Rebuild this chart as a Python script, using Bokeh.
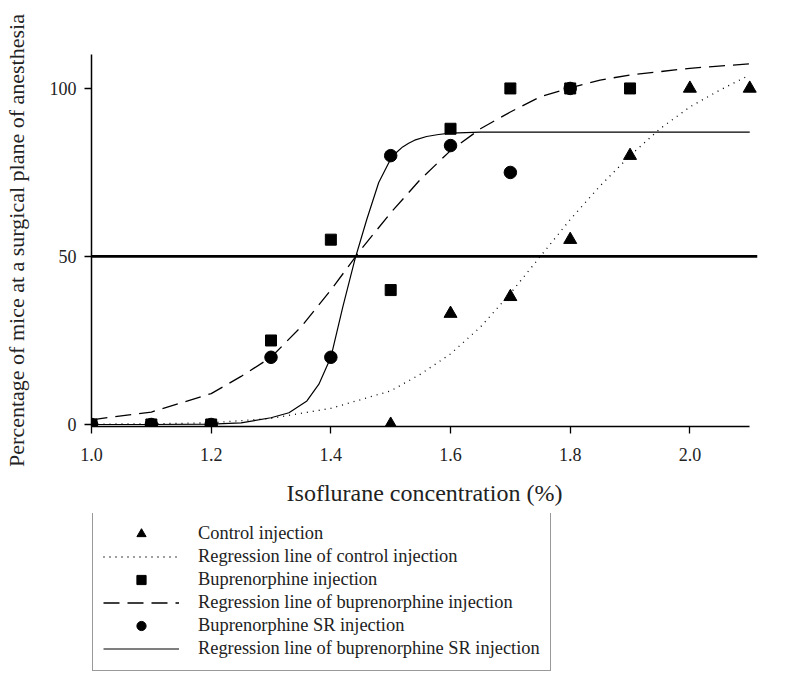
from bokeh.plotting import figure
from bokeh.models import Range1d, FixedTicker, Legend, LegendItem
from bokeh.layouts import column
from bokeh.embed import file_html
from bokeh.resources import INLINE

# ---- data ----
control_x = [1.5, 1.6, 1.7, 1.8, 1.9, 2.0, 2.1]
control_y = [0, 33, 38, 55, 80, 100, 100]

bup_x = [1.0, 1.1, 1.2, 1.3, 1.4, 1.5, 1.6, 1.7, 1.8, 1.9]
bup_y = [0, 0, 0, 25, 55, 40, 88, 100, 100, 100]

sr_x = [1.0, 1.1, 1.2, 1.3, 1.4, 1.5, 1.6, 1.7, 1.8]
sr_y = [0, 0, 0, 20, 20, 80, 83, 75, 100]

# regression curves
control_fit_x = [1.0, 1.1, 1.2, 1.3, 1.4, 1.5, 1.55, 1.6, 1.65, 1.7, 1.75, 1.8, 1.85, 1.9, 1.95, 2.0, 2.05, 2.1]
control_fit_y = [0.1, 0.2, 0.5, 1.8, 4.8, 10, 15, 21, 29, 39, 50, 61, 71, 80, 88, 94.5, 99.5, 104]

bup_fit_x = [1.0, 1.1, 1.2, 1.25, 1.3, 1.35, 1.4, 1.45, 1.5, 1.55, 1.6, 1.65, 1.7, 1.75, 1.8, 1.85, 1.9, 2.0, 2.1]
bup_fit_y = [1.4, 3.7, 9.2, 14.3, 20, 29, 40, 52, 63, 73, 81.5, 88, 93, 97.5, 100.2, 102.5, 104, 106, 107.3]

sr_fit_x = [1.0, 1.1, 1.2, 1.25, 1.3, 1.33, 1.36, 1.38, 1.4, 1.42, 1.44, 1.46, 1.48, 1.5,
            1.51, 1.52, 1.53, 1.54, 1.56, 1.58, 1.6, 1.65, 1.7, 2.1]
sr_fit_y = [0, 0, 0.1, 0.5, 2, 3.5, 7, 12, 20, 35, 49, 61, 72, 79,
            81, 82.6, 83.7, 84.6, 85.7, 86.3, 86.7, 87, 87, 87]

ref_x = [1.0, 2.113]
ref_y = [50, 50]

x_ticks = [1.0, 1.2, 1.4, 1.6, 1.8, 2.0]
x_tick_labels = ["1.0", "1.2", "1.4", "1.6", "1.8", "2.0"]
y_ticks = [0, 50, 100]
y_tick_labels = ["0", "50", "100"]

labels = [
    "Control injection",
    "Regression line of control injection",
    "Buprenorphine injection",
    "Regression line of buprenorphine injection",
    "Buprenorphine SR injection",
    "Regression line of buprenorphine SR injection",
]

FONT = "Liberation Serif"
TXT = "#222222"

# styles shared by plot and legend
tri_style = dict(marker="triangle", size=13, color="black")
sq_style = dict(marker="square", size=11, color="black")
circ_style = dict(marker="circle", size=12.5, color="black")
cfit_style = dict(line_color="black", line_width=1.3, line_dash="1 5")
bfit_style = dict(line_color="black", line_width=1.3, line_dash="16 8")
sfit_style = dict(line_color="black", line_width=1.2)

p = figure(width=792, height=513, output_backend="svg", toolbar_location=None,
           x_range=Range1d(1.0, 2.113), y_range=Range1d(-0.6, 110.1),
           min_border_left=90, min_border_right=35, min_border_top=54, min_border_bottom=87)
p.outline_line_color = None
p.xgrid.visible = False
p.ygrid.visible = False
p.background_fill_color = "white"
p.border_fill_color = "white"

for ax in (p.xaxis[0], p.yaxis[0]):
    ax.axis_line_color = "black"
    ax.axis_line_width = 1.5
    ax.major_tick_line_color = "black"
    ax.major_tick_line_width = 1.3
    ax.major_tick_out = 7
    ax.major_tick_in = 0
    ax.minor_tick_line_color = None
    ax.major_label_text_font = FONT
    ax.major_label_text_font_size = "18px"
    ax.major_label_text_color = TXT
    ax.axis_label_text_font = FONT
    ax.axis_label_text_font_style = "normal"
    ax.axis_label_text_color = TXT

p.xaxis.bounds = (1.0, 2.1)
p.xaxis.ticker = FixedTicker(ticks=x_ticks)
p.xaxis.major_label_overrides = dict(zip(x_ticks, x_tick_labels))
p.yaxis.ticker = FixedTicker(ticks=y_ticks)
p.yaxis.major_label_overrides = dict(zip(y_ticks, y_tick_labels))
p.xaxis.axis_label = "Isoflurane concentration (%)"
p.xaxis.axis_label_text_font_size = "24px"
p.xaxis.axis_label_standoff = 16
p.xaxis.major_label_standoff = 14
p.yaxis.axis_label = "Percentage of mice at a surgical plane of anesthesia"
p.yaxis.axis_label_text_font_size = "22px"
p.yaxis.axis_label_standoff = 18
p.yaxis.major_label_standoff = 8

# reference line at 50%
p.line(ref_x, ref_y, line_color="black", line_width=2.8)

# regression lines
p.line(control_fit_x, control_fit_y, **cfit_style)
p.line(bup_fit_x, bup_fit_y, **bfit_style)
p.line(sr_fit_x, sr_fit_y, **sfit_style)

# markers
p.scatter(control_x, control_y, **tri_style)
p.scatter(bup_x, bup_y, **sq_style)
p.scatter(sr_x, sr_y, **circ_style)

# ---- legend panel below the plot (its own series renderers lie outside its view) ----
lg = figure(width=792, height=159, output_backend="svg", toolbar_location=None,
            x_range=Range1d(-2, -1), y_range=Range1d(-2, -1),
            x_axis_type=None, y_axis_type=None,
            min_border_left=0, min_border_right=0, min_border_top=0, min_border_bottom=0)
lg.outline_line_color = None
lg.xgrid.visible = False
lg.ygrid.visible = False
lg.border_fill_color = "white"
l_c = lg.scatter(control_x, control_y, **tri_style)
l_cfit = lg.line(control_fit_x, control_fit_y, **cfit_style)
l_b = lg.scatter(bup_x, bup_y, **sq_style)
l_bfit = lg.line(bup_fit_x, bup_fit_y, **bfit_style)
l_s = lg.scatter(sr_x, sr_y, **circ_style)
l_sfit = lg.line(sr_fit_x, sr_fit_y, **sfit_style)

legend = Legend(items=[
    LegendItem(label=labels[0], renderers=[l_c]),
    LegendItem(label=labels[1], renderers=[l_cfit]),
    LegendItem(label=labels[2], renderers=[l_b]),
    LegendItem(label=labels[3], renderers=[l_bfit]),
    LegendItem(label=labels[4], renderers=[l_s]),
    LegendItem(label=labels[5], renderers=[l_sfit]),
], location=(1, 1))
legend.label_text_font = FONT
legend.label_text_font_size = "18.4px"
legend.label_text_color = TXT
legend.glyph_width = 76
legend.glyph_height = 23
legend.label_height = 23
legend.label_standoff = 19
legend.spacing = 0
legend.padding = 10
legend.margin = 0
legend.border_line_color = "#333333"
legend.border_line_width = 1.5
legend.background_fill_color = "white"
legend.background_fill_alpha = 1.0
lg.add_layout(legend, "center")

layout = column(p, lg, spacing=0)

with open("out.html", "w") as f:
    f.write(file_html(layout, INLINE))
